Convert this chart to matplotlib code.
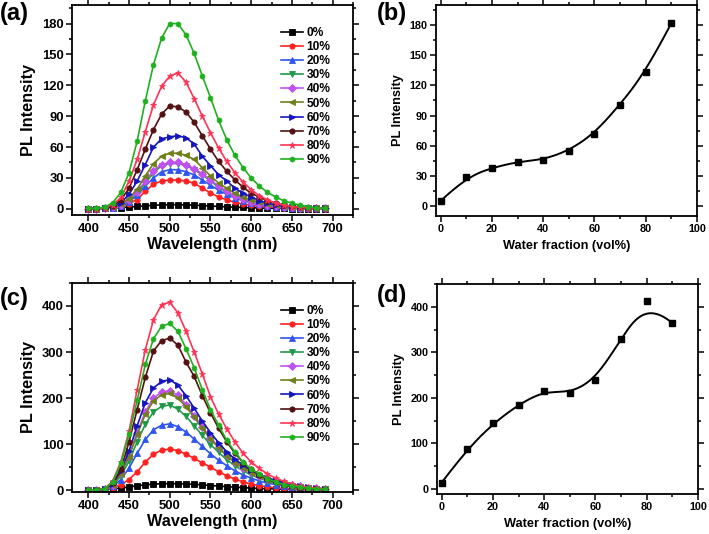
import numpy as np
import matplotlib
matplotlib.use('Agg')
import matplotlib.pyplot as plt
from matplotlib.ticker import MultipleLocator

plt.rcParams['font.family'] = ['Liberation Sans', 'DejaVu Sans']
plt.rcParams['font.weight'] = 'bold'
plt.rcParams['axes.labelweight'] = 'bold'

# wavelengths (nm)
wl = [400, 410, 420, 430, 440, 450, 460, 470, 480, 490, 500, 510, 520, 530, 540,
      550, 560, 570, 580, 590, 600, 610, 620, 630, 640, 650, 660, 670, 680, 690]

labels = ['0%', '10%', '20%', '30%', '40%', '50%', '60%', '70%', '80%', '90%']

# panel (a) spectra
a_0 = [0.3, 0.3, 0.5, 0.8, 1.2, 1.7, 2.3, 2.9, 3.4, 3.8, 4.0, 4.0, 3.8, 3.5, 3.1, 2.7, 2.3, 1.9, 1.6, 1.3, 1.0, 0.8, 0.6, 0.5, 0.4, 0.3, 0.3, 0.2, 0.2, 0.2]
a_10 = [0.3, 0.3, 0.5, 1.0, 2.5, 5, 9, 17, 24, 27, 28, 28, 27, 25, 20, 15.5, 11.5, 8.7, 6.3, 4.6, 3.4, 2.5, 1.8, 1.3, 1.0, 0.8, 0.6, 0.5, 0.4, 0.3]
a_20 = [0.3, 0.3, 0.5, 1.2, 3, 7, 13, 22, 30, 36, 38, 38, 36, 33, 28, 23, 18, 14, 10.5, 7.8, 5.7, 4.2, 3.0, 2.2, 1.6, 1.2, 0.9, 0.7, 0.5, 0.4]
a_30 = [0.3, 0.3, 0.6, 1.4, 3.5, 8, 15, 25, 35, 42, 44, 44, 42, 38, 33, 27, 21, 16, 12, 9, 6.6, 4.8, 3.5, 2.5, 1.8, 1.3, 1.0, 0.8, 0.6, 0.4]
a_40 = [0.3, 0.3, 0.6, 1.5, 3.8, 8.5, 16, 27, 37, 43, 45, 45, 43, 39, 34, 28, 22, 17, 12.5, 9.3, 6.8, 5.0, 3.6, 2.6, 1.9, 1.4, 1.0, 0.8, 0.6, 0.4]
a_50 = [0.3, 0.3, 0.7, 1.8, 4.5, 10, 19, 32, 44, 51, 54, 54, 52, 48, 40, 32, 25, 20, 15, 11.5, 8.8, 6.4, 4.6, 3.3, 2.4, 1.7, 1.2, 0.9, 0.7, 0.5]
a_60 = [0.3, 0.3, 0.8, 2.3, 6, 14, 27, 43, 60, 68, 70, 71, 69, 63, 51, 42, 33, 27, 20, 15, 11.4, 8.0, 5.5, 3.8, 2.7, 1.9, 1.4, 1.0, 0.8, 0.6]
a_70 = [0.3, 0.3, 1.0, 3, 8.5, 20, 38, 58, 77, 92, 100, 99, 94, 84, 71, 58, 46, 36.5, 28, 21, 15, 11.4, 7.8, 5.5, 3.6, 2.5, 1.7, 1.2, 0.9, 0.6]
a_80 = [0.3, 0.3, 1.2, 4, 11, 27, 48, 75, 101, 119, 129, 132, 123, 107, 90, 74, 59, 46, 35, 26, 18.6, 12.7, 8.8, 5.5, 3.5, 2.2, 1.5, 1.0, 0.7, 0.5]
a_90 = [0.5, 0.5, 1.5, 6, 16, 35, 66, 105, 140, 166, 180, 180, 169, 151, 129, 108, 86, 67, 52, 40, 30, 22, 16, 11.5, 7.8, 5.5, 3.5, 2.0, 1.0, 0.5]

# panel (c) spectra
c_0 = [0, 0.3, 1, 2.5, 4.5, 7, 9.5, 11.5, 13, 14, 14, 14, 13.5, 12.5, 11.5, 10, 9, 7.5, 6.5, 5.5, 4.5, 3.5, 3, 2.5, 2, 1.5, 1.2, 1, 0.8, 0.6]
c_10 = [0, 0.3, 1.5, 5, 12, 23, 40, 61, 78, 87, 89, 86, 78, 69, 59, 50, 40, 31, 24, 18, 13, 10, 7, 5, 3.5, 2.5, 2, 1.5, 1, 1]
c_20 = [0, 0.4, 2, 8, 23, 48, 80, 110, 131, 141, 144, 138, 126, 111, 95, 79, 65, 53, 42, 33, 26, 20, 15, 12, 9, 7, 5, 3.5, 2.5, 2]
c_30 = [0, 0.5, 2.5, 10, 31, 63, 105, 143, 170, 182, 185, 176, 160, 140, 119, 99, 82, 66, 53, 42, 33, 26, 20, 15, 12, 9, 6.5, 4.5, 3, 2]
c_40 = [0, 0.5, 3, 12, 37, 75, 125, 170, 200, 213, 216, 206, 186, 162, 137, 114, 94, 76, 61, 49, 39, 31, 24, 19, 14, 11, 8, 5.5, 4, 3]
c_50 = [0, 0.5, 3, 12, 36, 73, 121, 165, 194, 207, 210, 200, 181, 158, 134, 111, 92, 74, 60, 48, 38, 30, 23, 18, 14, 10, 7.5, 5, 3.5, 2.5]
c_60 = [0, 0.5, 3, 14, 42, 85, 140, 190, 222, 236, 240, 228, 205, 178, 150, 125, 103, 83, 67, 54, 43, 34, 27, 21, 16, 12, 9, 6, 4, 3]
c_70 = [0, 0.5, 3, 15, 45, 105, 175, 245, 302, 325, 330, 315, 278, 247, 205, 168, 134, 105, 80, 60, 45, 33, 24, 17, 12, 8, 5.5, 3.5, 2.5, 1.5]
c_80 = [0, 0.5, 3, 20, 62, 128, 218, 305, 370, 403, 408, 385, 345, 300, 252, 203, 165, 133, 105, 80, 61, 47, 35, 26, 19, 13, 9, 6, 4, 3]
c_90 = [0.5, 0.5, 3, 18, 58, 121, 195, 273, 329, 356, 362, 345, 307, 266, 218, 175, 141, 108, 83, 61, 46, 35, 25, 18, 12, 9, 6, 4, 2.5, 1.5]

# panels (b) and (d): peak intensity vs water fraction
water = [0, 10, 20, 30, 40, 50, 60, 70, 80, 90]
b_int = [5, 29, 38, 44, 46, 55, 72, 101, 133, 182]
d_int = [14, 88, 144, 185, 216, 210, 240, 330, 412, 364]

colors = ['#000000', '#ff2020', '#2f55f0', '#1f9a48', '#c050f0',
          '#6f7f1a', '#1515c0', '#551111', '#ff3355', '#1fb01f']
markers = ['s', 'o', '^', 'v', 'D', '<', '>', 'o', '*', 'h']


def bspline(xs, ys, num=300):
    # clamped cubic B-spline with the data points as control points (Origin style)
    n = len(xs)
    k = 3
    knots = np.concatenate([np.zeros(k), np.arange(n - k + 1), np.full(k, n - k)])
    t = np.linspace(0, n - k, num)
    t[-1] -= 1e-9

    def basis(i, p):
        if p == 0:
            return ((knots[i] <= t) & (t < knots[i + 1])).astype(float)
        out = np.zeros_like(t)
        d1 = knots[i + p] - knots[i]
        if d1 > 0:
            out += (t - knots[i]) / d1 * basis(i, p - 1)
        d2 = knots[i + p + 1] - knots[i + 1]
        if d2 > 0:
            out += (knots[i + p + 1] - t) / d2 * basis(i + 1, p - 1)
        return out

    B = np.array([basis(i, k) for i in range(n)])
    return B.T @ np.array(xs, float), B.T @ np.array(ys, float)


def style(ax, tick_size):
    for s in ax.spines.values():
        s.set_linewidth(1.3)
    ax.tick_params(which='both', direction='out', top=True, right=True, width=1.1,
                   labelsize=tick_size, pad=2)
    ax.tick_params(which='major', length=4)
    ax.tick_params(which='minor', length=2.5)
    for t in ax.get_xticklabels() + ax.get_yticklabels():
        t.set_fontweight('bold')


fig = plt.figure(figsize=(7.09, 5.34), dpi=100)

ax_a = fig.add_axes([0.1016, 0.5974, 0.3963, 0.3932])
ax_b = fig.add_axes([0.615, 0.5955, 0.368, 0.395])
ax_c = fig.add_axes([0.1016, 0.0787, 0.3963, 0.3914])
ax_d = fig.add_axes([0.6164, 0.0749, 0.3681, 0.3933])

for ax, series, ylim, ystep in [(ax_a, [a_0, a_10, a_20, a_30, a_40, a_50, a_60, a_70, a_80, a_90], (-6, 198), 30),
                                (ax_c, [c_0, c_10, c_20, c_30, c_40, c_50, c_60, c_70, c_80, c_90], (-4, 450), 100)]:
    for vals, lab, c, m in zip(series, labels, colors, markers):
        ms = 5 if m == '*' else 3.8
        ax.plot(wl, vals, color=c, marker=m, markersize=ms, linewidth=1.2,
                markeredgewidth=0.6, label=lab)
    ax.set_xlim(380, 725)
    ax.set_ylim(*ylim)
    ax.xaxis.set_major_locator(MultipleLocator(50))
    ax.xaxis.set_minor_locator(MultipleLocator(25))
    ax.yaxis.set_major_locator(MultipleLocator(ystep))
    ax.yaxis.set_minor_locator(MultipleLocator(ystep / 2))
    ax.set_xlabel('Wavelength (nm)', fontsize=11.7, fontweight='bold', labelpad=1)
    ax.set_ylabel('PL Intensity', fontsize=11.7, fontweight='bold', labelpad=4)
    style(ax, 9.4)
    ax.legend(loc='upper left', bbox_to_anchor=(0.745, 0.896), frameon=False,
              prop={'size': 8.6, 'weight': 'bold'}, handlelength=1.8,
              handletextpad=0.3, labelspacing=0.18, borderpad=0, borderaxespad=0)

for ax, vals, ylim, ystep in [(ax_b, b_int, (-10, 200), 30), (ax_d, d_int, (-11, 450), 100)]:
    sx, sy = bspline(water, vals)
    ax.plot(sx, sy, color='black', linewidth=1.4)
    ax.plot(water, vals, 's', color='black', markersize=4.5)
    ax.set_xlim(-1.8, 100)
    ax.set_ylim(*ylim)
    ax.xaxis.set_major_locator(MultipleLocator(20))
    ax.xaxis.set_minor_locator(MultipleLocator(10))
    ax.yaxis.set_major_locator(MultipleLocator(ystep))
    ax.yaxis.set_minor_locator(MultipleLocator(ystep / 2))
    ax.set_xlabel('Water fraction (vol%)', fontsize=9.2, fontweight='bold', labelpad=4)
    ax.set_ylabel('PL Intensity', fontsize=9.2, fontweight='bold', labelpad=4)
    style(ax, 7.8)

for lab, x, y in [('(a)', 0.0, 0.997), ('(b)', 0.531, 0.997), ('(c)', 0.0, 0.463), ('(d)', 0.531, 0.468)]:
    fig.text(x, y, lab, fontsize=17, fontweight='bold', ha='left', va='top')

fig.savefig('out.png', dpi=100)
